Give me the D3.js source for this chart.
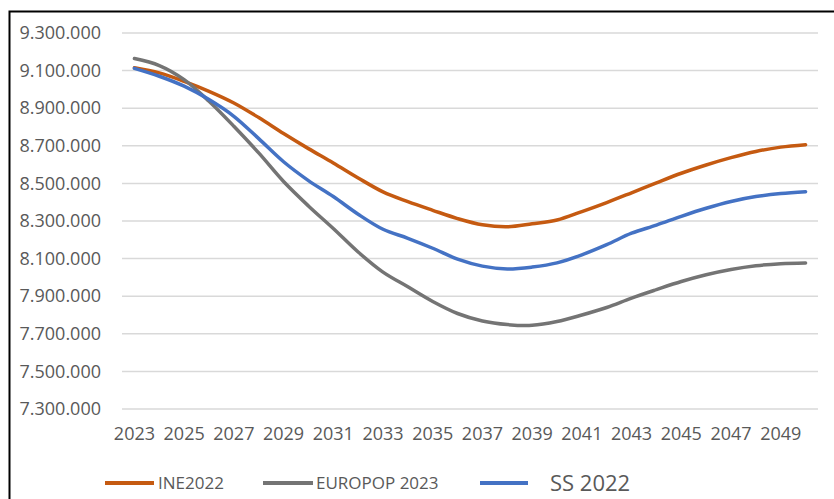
<!DOCTYPE html>
<html>
<head>
<meta charset="utf-8">
<script src="https://cdn.jsdelivr.net/npm/d3@7"></script>
<style>
  body { margin: 0; background: #ffffff; }
  svg { display: block; font-family: "Open Sans", sans-serif; }
</style>
</head>
<body>
<div id="chart"></div>
<script>
// data
const years = d3.range(2023, 2051);
const tickYears = [2023, 2025, 2027, 2029, 2031, 2033, 2035, 2037, 2039, 2041, 2043, 2045, 2047, 2049];
const yTicks = [7300000, 7500000, 7700000, 7900000, 8100000, 8300000, 8500000, 8700000, 8900000, 9100000, 9300000];

const ine2022 = [9115000, 9088000, 9043000, 8990000, 8928000, 8850000, 8765000, 8685000, 8609000, 8529000,
  8455000, 8403000, 8357000, 8313000, 8280000, 8269000, 8285000, 8305000, 8350000, 8398000,
  8450000, 8503000, 8554000, 8598000, 8637000, 8670000, 8693000, 8706000];
const europop2023 = [9164000, 9127000, 9052000, 8937000, 8804000, 8662000, 8510000, 8380000, 8260000, 8135000,
  8028000, 7950000, 7872000, 7808000, 7768000, 7749000, 7745000, 7765000, 7800000, 7840000,
  7890000, 7935000, 7978000, 8014000, 8042000, 8062000, 8073000, 8077000];
const ss2022 = [9112000, 9070000, 9017000, 8946000, 8857000, 8738000, 8615000, 8515000, 8430000, 8336000,
  8256000, 8208000, 8155000, 8097000, 8060000, 8045000, 8055000, 8077000, 8120000, 8174000,
  8235000, 8278000, 8325000, 8368000, 8404000, 8430000, 8446000, 8456000];

const seriesNames = ['INE2022', 'EUROPOP 2023', 'SS 2022'];
const seriesColors = ['#C55A11', '#747474', '#4472C4'];
const seriesData = [ine2022, europop2023, ss2022];

const W = 834, H = 499;
const margin = { top: 33, right: 16, bottom: 90, left: 122 };
const width = W - margin.left - margin.right,
  height = 409 - margin.top;

const svg = d3
  .select('#chart')
  .append('svg')
  .attr('width', W)
  .attr('height', H);

// frame (top and left edges only visible)
svg.append('path')
  .attr('d', `M9.5,${H} V11.5 H${W}`)
  .attr('fill', 'none')
  .attr('stroke', '#000')
  .attr('stroke-width', 2);

const g = svg.append('g')
  .attr('transform', `translate(${margin.left}, ${margin.top})`);

const x = d3.scaleBand().domain(years).range([0, width]);
const y = d3.scaleLinear().domain([7300000, 9300000]).range([height, 0]);

const es = d3.formatLocale({ decimal: ',', thousands: '.', grouping: [3], currency: ['', ' €'] });
const fmt = es.format(',d');

// gridlines
g.append('g')
  .selectAll('line')
  .data(yTicks)
  .join('line')
  .attr('x1', 0)
  .attr('x2', width)
  .attr('y1', d => y(d))
  .attr('y2', d => y(d))
  .attr('stroke', '#d9d9d9')
  .attr('stroke-width', 1.5);

// y axis
const yAxis = g.append('g')
  .call(d3.axisLeft(y).tickValues(yTicks).tickFormat(fmt).tickSize(0).tickPadding(21));
yAxis.select('.domain').remove();
yAxis.selectAll('text')
  .attr('fill', '#595959')
  .style('font-size', '18px')
  .style('font-family', '"Open Sans", sans-serif');

// x axis
const xAxis = g.append('g')
  .attr('transform', `translate(0, ${height})`)
  .call(d3.axisBottom(x).tickValues(tickYears).tickSize(0).tickPadding(18));
xAxis.select('.domain').remove();
xAxis.selectAll('text')
  .attr('fill', '#595959')
  .style('font-size', '18px')
  .style('font-family', '"Open Sans", sans-serif');

// lines
const line = d3.line()
  .x((d, i) => x(years[i]) + x.bandwidth() / 2)
  .y(d => y(d))
  .curve(d3.curveCatmullRom.alpha(0.5));

g.append('g')
  .selectAll('path')
  .data(seriesData)
  .join('path')
  .attr('d', d => line(d))
  .attr('fill', 'none')
  .attr('stroke', (d, i) => seriesColors[i])
  .attr('stroke-width', 3.5)
  .attr('stroke-linecap', 'round');

// legend
const legendY = 483;
const legendItems = [
  { x1: 105, x2: 154, tx: 158, size: 17 },
  { x1: 263, x2: 313, tx: 316, size: 17 },
  { x1: 480, x2: 528, tx: 550, size: 22 }
];
const legend = svg.append('g')
  .selectAll('g')
  .data(seriesNames)
  .join('g');
legend.append('line')
  .attr('x1', (d, i) => legendItems[i].x1)
  .attr('x2', (d, i) => legendItems[i].x2)
  .attr('y1', legendY)
  .attr('y2', legendY)
  .attr('stroke', (d, i) => seriesColors[i])
  .attr('stroke-width', 4);
legend.append('text')
  .attr('x', (d, i) => legendItems[i].tx)
  .attr('y', legendY)
  .attr('dy', '0.35em')
  .attr('fill', '#595959')
  .style('font-size', (d, i) => legendItems[i].size + 'px')
  .text(d => d);
</script>
</body>
</html>
